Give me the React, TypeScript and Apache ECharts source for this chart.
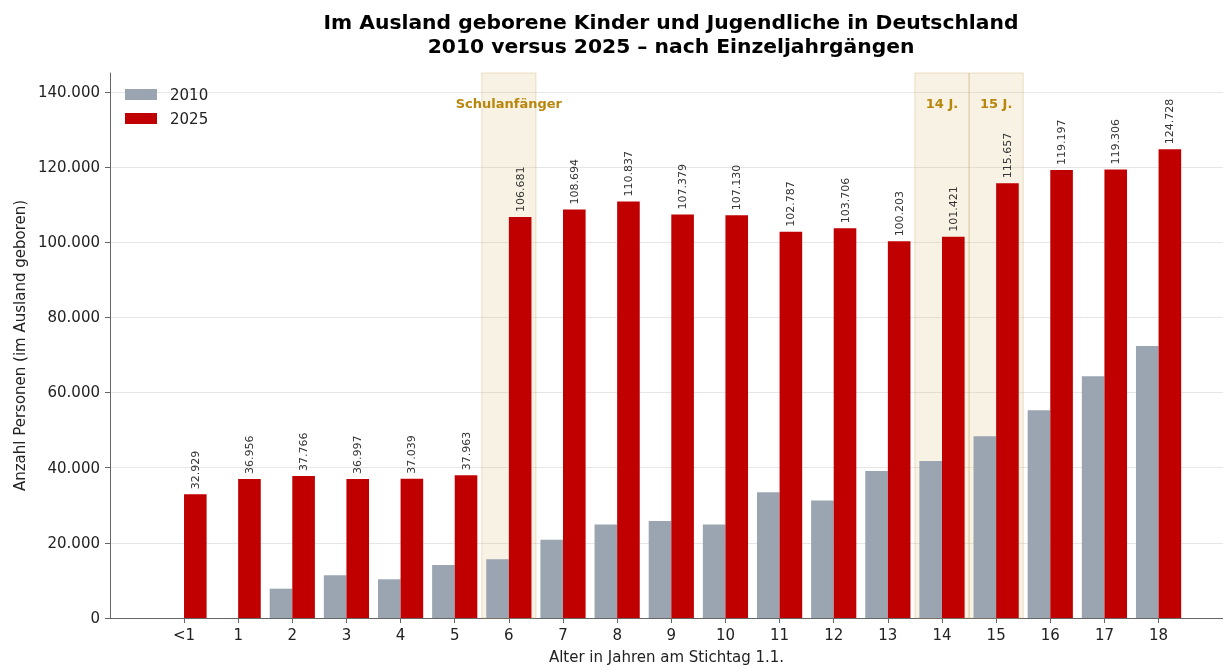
import React, { useEffect, useRef } from "react";
import * as echarts from "echarts";

const ageLabels = ["<1", "1", "2", "3", "4", "5", "6", "7", "8", "9", "10", "11", "12", "13", "14", "15", "16", "17", "18"];
const values2010 = [0, 0, 7800, 11400, 10300, 14100, 15600, 20800, 24850, 25800, 24900, 33450, 31250, 39100, 41800, 48350, 55300, 64300, 72400];
const values2025 = [32929, 36956, 37766, 36997, 37039, 37963, 106681, 108694, 110837, 107379, 107130, 102787, 103706, 100203, 101421, 115657, 119197, 119306, 124728];
const yTicks = [0, 20000, 40000, 60000, 80000, 100000, 120000, 140000];
const bands = [
  { label: "Schulanfänger", from: 5.5, to: 6.5 },
  { label: "14 J.", from: 13.5, to: 14.5 },
  { label: "15 J.", from: 14.5, to: 15.5 },
];

const FONT = "DejaVu Sans";
const fmt = (v: number) => String(v).replace(/\B(?=(\d{3})+(?!\d))/g, ".");

export default function App() {
  const ref = useRef<HTMLDivElement>(null);
  useEffect(() => {
    if (!ref.current) return;
    const chart = echarts.init(ref.current, undefined, { renderer: "svg" });
    const idx = ageLabels.map((_, i) => i);
    chart.setOption({
      animation: false,
      textStyle: { fontFamily: FONT },
      title: {
        text: "Im Ausland geborene Kinder und Jugendliche in Deutschland\n2010 versus 2025 – nach Einzeljahrgängen",
        left: 671,
        top: 10,
        padding: 0,
        textAlign: "center",
        textStyle: { fontFamily: FONT, fontSize: 20.3, fontWeight: "bold", color: "#000", lineHeight: 24 },
      },
      legend: {
        data: ["2010", "2025"],
        orient: "vertical",
        left: 125,
        top: 87,
        padding: 0,
        itemWidth: 32,
        itemHeight: 11,
        itemGap: 9,
        icon: "rect",
        textStyle: { fontFamily: FONT, fontSize: 15, color: "#222", padding: [0, 0, 0, 8] },
      },
      grid: { left: 110, right: 0, top: 73, bottom: 48, containLabel: false, outerBoundsMode: "none" },
      xAxis: {
        type: "value",
        min: -1.367,
        max: 19.19,
        name: "Alter in Jahren am Stichtag 1.1.",
        nameLocation: "middle",
        nameGap: 31,
        nameTextStyle: { fontFamily: FONT, fontSize: 15, color: "#222" },
        axisLine: { show: true, onZero: false, lineStyle: { color: "#666", width: 1 } },
        axisTick: { show: true, customValues: idx, length: 5, lineStyle: { color: "#666" } },
        axisLabel: {
          customValues: idx,
          formatter: (v: number) => ageLabels[Math.round(v)] ?? "",
          fontFamily: FONT,
          fontSize: 15,
          color: "#222",
          margin: 9,
        },
        splitLine: { show: false },
      },
      yAxis: {
        type: "value",
        min: 0,
        max: 145000,
        interval: 20000,
        name: "Anzahl Personen (im Ausland geboren)",
        nameLocation: "middle",
        nameGap: 83,
        nameTextStyle: { fontFamily: FONT, fontSize: 15, color: "#222" },
        axisLine: { show: true, onZero: false, lineStyle: { color: "#666", width: 1 } },
        axisTick: { show: true, customValues: yTicks, length: 5, lineStyle: { color: "#666" } },
        axisLabel: {
          customValues: yTicks,
          formatter: (v: number) => fmt(v),
          fontFamily: FONT,
          fontSize: 15,
          color: "#222",
          margin: 10,
        },
        splitLine: { show: true, lineStyle: { color: "#e6e6e6", width: 1 } },
      },
      series: [
        {
          name: "bands",
          type: "line",
          data: [],
          silent: true,
          z: 1,
          markArea: {
            silent: true,
            itemStyle: { color: "rgba(222,196,130,0.22)", borderColor: "rgba(200,170,100,0.35)", borderWidth: 1 },
            label: {
              show: true,
              position: "insideTop",
              distance: 24,
              fontFamily: FONT,
              fontSize: 13,
              fontWeight: "bold",
              color: "#B8860B",
            },
            data: bands.map((b) => [{ xAxis: b.from, name: b.label }, { xAxis: b.to }]),
          },
        },
        {
          name: "2010",
          type: "bar",
          barWidth: 22.6,
          barGap: "0%",
          z: 3,
          itemStyle: { color: "#9AA5B1" },
          data: values2010.map((v, i) => [i, v]),
        },
        {
          name: "2025",
          type: "bar",
          barWidth: 22.6,
          barGap: "0%",
          z: 3,
          itemStyle: { color: "#C00000" },
          label: {
            show: true,
            position: "top",
            rotate: 90,
            align: "left",
            verticalAlign: "middle",
            distance: 5,
            fontFamily: FONT,
            fontSize: 11,
            color: "#333",
            formatter: (p: any) => fmt(p.value[1]),
          },
          data: values2025.map((v, i) => [i, v]),
        },
      ],
    });
    return () => chart.dispose();
  }, []);
  return <div ref={ref} style={{ position: "fixed", left: 0, top: 0, width: 1223, height: 666 }} />;
}
